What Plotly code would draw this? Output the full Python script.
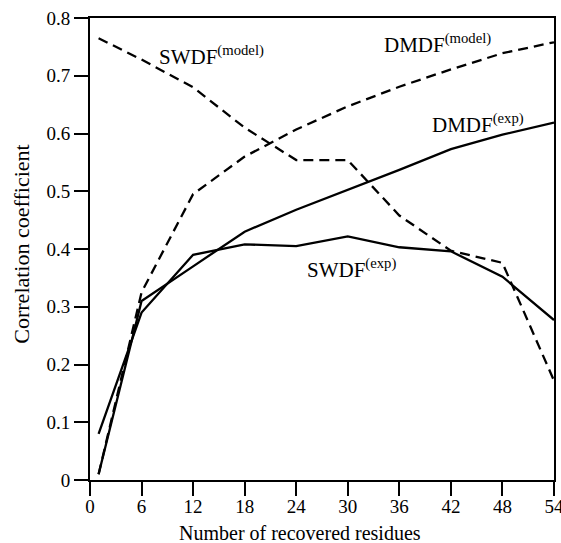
import plotly.graph_objects as go

# values
RESIDUES = [1, 6, 12, 18, 24, 30, 36, 42, 48, 54]
DMDF_MODEL = [0.01, 0.325, 0.495, 0.56, 0.607, 0.647, 0.681, 0.711, 0.739, 0.758]
SWDF_MODEL = [0.765, 0.728, 0.68, 0.61, 0.554, 0.554, 0.458, 0.397, 0.376, 0.172]
DMDF_EXP = [0.01, 0.31, 0.37, 0.43, 0.468, 0.502, 0.537, 0.573, 0.598, 0.619]
SWDF_EXP = [0.08, 0.29, 0.39, 0.408, 0.405, 0.422, 0.403, 0.396, 0.352, 0.277]

X_TICKS = [0, 6, 12, 18, 24, 30, 36, 42, 48, 54]
Y_TICKS = [0, 0.1, 0.2, 0.3, 0.4, 0.5, 0.6, 0.7, 0.8]
Y_TICK_TEXT = ["0", "0.1", "0.2", "0.3", "0.4", "0.5", "0.6", "0.7", "0.8"]

FONT = "Liberation Serif"
DASH = "10px,6px"

fig = go.Figure()
for ys, dash in [(DMDF_MODEL, DASH), (SWDF_MODEL, DASH), (DMDF_EXP, "solid"), (SWDF_EXP, "solid")]:
    fig.add_trace(go.Scatter(
        x=RESIDUES, y=ys, mode="lines",
        line=dict(color="black", width=2.3, dash=dash),
        showlegend=False,
    ))

labels = [
    (7.8, 0.735, "SWDF<sup>(model)</sup>"),
    (34.0, 0.755, "DMDF<sup>(model)</sup>"),
    (39.6, 0.617, "DMDF<sup>(exp)</sup>"),
    (25.0, 0.366, "SWDF<sup>(exp)</sup>"),
]
for x, y, txt in labels:
    fig.add_annotation(x=x, y=y, text=txt, showarrow=False, xanchor="left",
                       yanchor="middle", font=dict(family=FONT, size=21, color="black"))

fig.add_annotation(x=0.453, y=-0.115, xref="paper", yref="paper", text="Number of recovered residues",
                   showarrow=False, xanchor="center", yanchor="middle",
                   font=dict(family=FONT, size=20, color="black"))
fig.add_annotation(x=-0.147, y=0.511, xref="paper", yref="paper", text="Correlation coefficient",
                   showarrow=False, textangle=-90, xanchor="center", yanchor="middle",
                   font=dict(family=FONT, size=22, color="black"))

axis_common = dict(
    showgrid=False, zeroline=False, showline=True, linecolor="black", linewidth=2,
    mirror=True, ticks="outside", ticklen=14, tickwidth=2, tickcolor="black",
    tickfont=dict(family=FONT, size=19, color="black"),
    ticklabeloverflow="allow", automargin=False,
)
fig.update_xaxes(range=[0, 54], tickvals=X_TICKS, ticklabelstandoff=-6, **axis_common)
fig.update_yaxes(range=[0, 0.8], tickvals=Y_TICKS, ticktext=Y_TICK_TEXT, **axis_common)

fig.update_layout(
    width=561, height=543,
    margin=dict(l=90, r=7, t=18, b=63),
    plot_bgcolor="white", paper_bgcolor="white",
)

# drop the default 8px body margin so the figure fills the window exactly
fig.write_html("out.html", config={"displayModeBar": False},
               post_script="document.body.style.margin='0px';")
